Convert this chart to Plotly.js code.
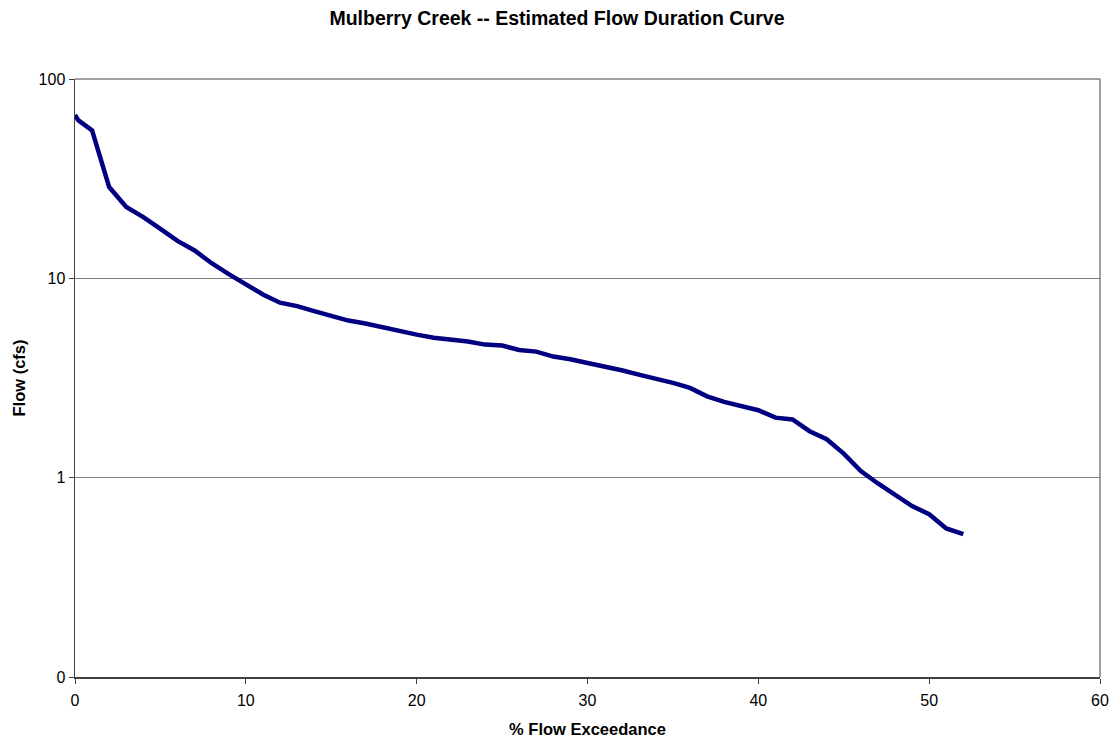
<!DOCTYPE html>
<html>
<head>
<meta charset="utf-8">
<script src="https://cdn.plot.ly/plotly-3.0.1.min.js"></script>
<style>html,body{margin:0;padding:0;background:#fff;}#chart{width:1114px;height:738px;}</style>
</head>
<body>
<div id="chart"></div>
<script>
const exceedance = [0, 0.2, 1, 2, 3, 4, 5, 6, 7, 8, 9, 10, 11, 12, 13, 14, 15, 16, 17, 18, 19, 20,
  21, 22, 23, 24, 25, 26, 27, 28, 29, 30, 31, 32, 33, 34, 35, 36, 37, 38, 39, 40,
  41, 42, 43, 44, 45, 46, 47, 48, 49, 50, 51, 52];
const flow = [66, 62, 55.2, 28.7, 22.8, 20.3, 17.7, 15.4, 13.8, 11.9, 10.5, 9.4, 8.3, 7.55, 7.25,
  6.84, 6.47, 6.14, 5.93, 5.66, 5.45, 5.22, 5.04, 4.93, 4.82, 4.65, 4.60, 4.37, 4.29, 4.05,
  3.93, 3.76, 3.63, 3.46, 3.29, 3.14, 2.99, 2.82, 2.56, 2.40, 2.28, 2.18, 2.00, 1.96, 1.71,
  1.56, 1.32, 1.08, 0.935, 0.824, 0.72, 0.656, 0.556, 0.521];
const yTickVals = [0.1, 1, 10, 100];
const yTickText = ["0", "1", "10", "100"];
const xTickVals = [0, 10, 20, 30, 40, 50, 60];

const font = 'Liberation Sans, Arial, sans-serif';
Plotly.newPlot('chart', [{
  x: exceedance, y: flow, type: 'scatter', mode: 'lines',
  line: {color: '#000080', width: 4.5}, hoverinfo: 'x+y'
}], {
  width: 1114, height: 738,
  margin: {l: 75, r: 14, t: 79, b: 61},
  paper_bgcolor: '#fff', plot_bgcolor: '#fff',
  font: {family: font, size: 16, color: '#000'},
  showlegend: false,
  title: {text: '<b>Mulberry Creek -- Estimated Flow Duration Curve</b>', x: 0.5, xref: 'container', xanchor: 'center', y: 0.975, yref: 'container', yanchor: 'middle', font: {family: font, size: 19.5, color: '#000'}},
  xaxis: {
    range: [0, 60], tickvals: xTickVals, ticks: 'outside', ticklen: 5, tickcolor: '#404040', ticklabelstandoff: 3,
    showgrid: false, zeroline: false, showline: true, linecolor: '#404040', linewidth: 1.5,
    tickfont: {size: 16}, title: {text: '<b>% Flow Exceedance</b>', font: {size: 16.5}, standoff: 15}
  },
  yaxis: {
    type: 'log', range: [-1, 2], tickvals: yTickVals, ticktext: yTickText, ticks: 'outside', ticklen: 5, tickcolor: '#404040',
    showgrid: true, gridcolor: '#808080', gridwidth: 1, zeroline: false, showline: true, linecolor: '#404040', linewidth: 1.5,
    tickfont: {size: 16}, title: {text: '<b>Flow (cfs)</b>', font: {size: 16.5}, standoff: 9}
  },
  shapes: [
    {type: 'line', xref: 'paper', yref: 'paper', x0: 0, x1: 1, y0: 1, y1: 1, line: {color: '#808080', width: 1.5}},
    {type: 'line', xref: 'paper', yref: 'paper', x0: 1, x1: 1, y0: 0, y1: 1, line: {color: '#808080', width: 1.5}}
  ]
}, {displayModeBar: false, staticPlot: true});
</script>
</body>
</html>
